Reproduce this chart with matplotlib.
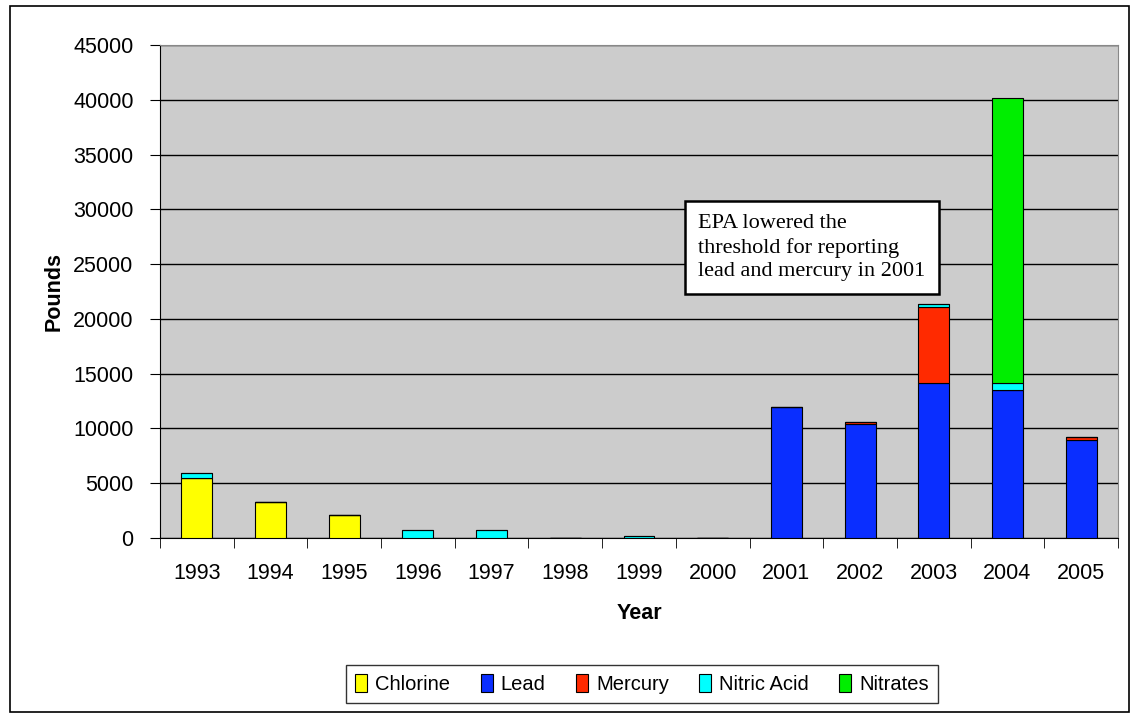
import numpy as np
import matplotlib.pyplot as plt
from matplotlib.patches import Rectangle

years = ['1993', '1994', '1995', '1996', '1997', '1998', '1999',
         '2000', '2001', '2002', '2003', '2004', '2005']
chlorine = [5450, 3300, 2100, 0, 0, 0, 0, 0, 0, 0, 0, 0, 0]
lead = [0, 0, 0, 0, 0, 0, 0, 0, 11950, 10400, 14150, 13500, 8950]
mercury = [0, 0, 0, 0, 0, 0, 0, 0, 0, 200, 6900, 0, 250]
nitric = [450, 0, 0, 700, 700, 0, 150, 0, 0, 0, 300, 650, 0]
nitrates = [0, 0, 0, 0, 0, 0, 0, 0, 0, 0, 0, 26000, 0]

series = [('Chlorine', chlorine, '#ffff00'),
          ('Lead', lead, '#0a2eff'),
          ('Mercury', mercury, '#ff2a00'),
          ('Nitric Acid', nitric, '#00ffff'),
          ('Nitrates', nitrates, '#00ee00')]

plt.rcParams['font.family'] = ['Liberation Sans', 'DejaVu Sans']

fig = plt.figure(figsize=(11.38, 7.19), dpi=100)
fig.patches.append(Rectangle((0.009, 0.01), 0.983, 0.982, transform=fig.transFigure,
                             fill=False, edgecolor='black', lw=1.2))
ax = fig.add_axes([160 / 1138, 1 - 538 / 719, 958 / 1138, 493 / 719])
ax.set_facecolor('#cccccc')

x = np.arange(len(years))
bottom = np.zeros(len(years))
for name, vals, col in series:
    vals = np.array(vals, dtype=float)
    ax.bar(x, vals, width=0.42, bottom=bottom, color=col, edgecolor='black',
           linewidth=0.8, label=name, zorder=3)
    bottom += vals

ax.set_xlim(-0.5, len(years) - 0.5)
ax.set_ylim(0, 45000)
ax.set_yticks(np.arange(0, 45001, 5000))
ax.yaxis.grid(True, color='black', lw=1)
ax.set_axisbelow(True)
ax.set_xticks(x)
ax.set_xticklabels(years)
ax.set_xticks(np.arange(-0.5, len(years), 1), minor=True)
ax.tick_params(axis='x', which='major', length=0, pad=18, labelsize=15.5)
ax.tick_params(axis='x', which='minor', length=7, color='black')
ax.tick_params(axis='y', labelsize=15.5, length=7, pad=12, direction='out')
for s in ['top', 'right']:
    ax.spines[s].set_color('#888888')
ax.spines['left'].set_color('black')
ax.spines['bottom'].set_color('black')

ax.set_ylabel('Pounds', fontsize=15.5, fontweight='bold', labelpad=6)
ax.set_xlabel('Year', fontsize=15.5, fontweight='bold', labelpad=14)

ax.text(0.562, 0.589, 'EPA lowered the\nthreshold for reporting\nlead and mercury in 2001',
        transform=ax.transAxes, family=['Liberation Serif', 'DejaVu Serif'],
        fontsize=16, va='center', ha='left', linespacing=1.3,
        bbox=dict(boxstyle='square,pad=0.6', fc='white', ec='black', lw=1.8),
        zorder=5)

leg = fig.legend(loc='center', bbox_to_anchor=(642 / 1138, 1 - 684 / 719), ncol=5,
                 fontsize=14.5, frameon=True, fancybox=False, edgecolor='black',
                 handlelength=0.6, handleheight=1.0, handletextpad=0.4,
                 columnspacing=1.5, borderpad=0.45)
leg.get_frame().set_linewidth(1.0)

fig.savefig('out.png', dpi=100)
